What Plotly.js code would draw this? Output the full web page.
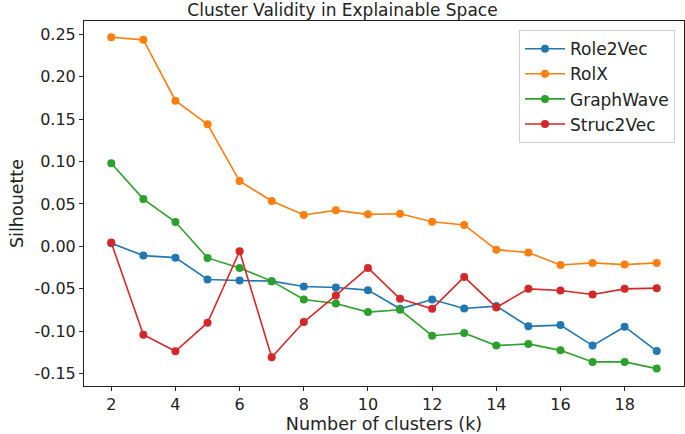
<!DOCTYPE html>
<html>
<head>
<meta charset="utf-8">
<script src="https://cdn.plot.ly/plotly-3.0.1.min.js"></script>
<style>html,body{margin:0;padding:0;background:#fff;}#chart{width:685px;height:434px;}</style>
</head>
<body>
<div id="chart"></div>
<script>
const k = [2,3,4,5,6,7,8,9,10,11,12,13,14,15,16,17,18,19];
const role2vec = [0.0036,-0.0109,-0.0133,-0.0391,-0.0403,-0.0410,-0.0473,-0.0485,-0.0516,-0.0736,-0.0626,-0.0732,-0.0704,-0.0943,-0.0928,-0.1170,-0.0947,-0.1234];
const rolx = [0.2465,0.2434,0.1717,0.1439,0.0769,0.0534,0.0369,0.0424,0.0377,0.0384,0.0290,0.0252,-0.0039,-0.0074,-0.0219,-0.0195,-0.0215,-0.0195];
const graphwave = [0.0980,0.0557,0.0287,-0.0136,-0.0254,-0.0410,-0.0626,-0.0673,-0.0775,-0.0748,-0.1053,-0.1022,-0.1170,-0.1150,-0.1226,-0.1362,-0.1362,-0.1441];
const struc2vec = [0.0044,-0.1041,-0.1237,-0.0900,-0.0058,-0.1308,-0.0892,-0.0579,-0.0254,-0.0618,-0.0736,-0.0360,-0.0720,-0.0501,-0.0520,-0.0568,-0.0501,-0.0493];
const seriesNames = ["Role2Vec","RolX","GraphWave","Struc2Vec"];
const colors = ["#1f77b4","#ff7f0e","#2ca02c","#d62728"];
const xTicks = [2,4,6,8,10,12,14,16,18];
const yTicks = [-0.15,-0.10,-0.05,0.00,0.05,0.10,0.15,0.20,0.25];

const font = "DejaVu Sans, sans-serif";
const data = [role2vec, rolx, graphwave, struc2vec].map((ys, i) => ({
  x: k, y: ys, name: seriesNames[i], type: "scatter", mode: "lines+markers",
  line: {color: colors[i], width: 1.6},
  marker: {color: colors[i], size: 8}
}));

const layout = {
  width: 685, height: 434,
  margin: {l: 84, r: 1, t: 21, b: 48},
  paper_bgcolor: "#fff", plot_bgcolor: "#fff",
  font: {family: font, size: 16, color: "#222"},
  title: {text: "Cluster Validity in Explainable Space", font: {family: font, size: 17, color: "#222"}, x: 0.5, xanchor: "center", y: 0.978, yanchor: "middle", yref: "container"},
  xaxis: {
    range: [1.15, 19.85], tickvals: xTicks, ticktext: xTicks.map(String),
    showgrid: false, zeroline: false, showline: true, linecolor: "#222", linewidth: 1, mirror: true,
    ticks: "outside", ticklen: 4, tickcolor: "#222", tickfont: {family: font, size: 16, color: "#222"},
    title: {text: "Number of clusters (k)", font: {family: font, size: 17.5, color: "#222"}, standoff: 4}
  },
  yaxis: {
    range: [-0.1646, 0.2656], tickvals: yTicks, ticktext: yTicks.map(v => v.toFixed(2)),
    showgrid: false, zeroline: false, showline: true, linecolor: "#222", linewidth: 1, mirror: true,
    ticks: "outside", ticklen: 4, tickcolor: "#222", tickfont: {family: font, size: 16, color: "#222"},
    title: {text: "Silhouette", font: {family: font, size: 17.5, color: "#222"}, standoff: 6}
  },
  legend: {
    x: 0.985, y: 0.975, xanchor: "right", yanchor: "top",
    bgcolor: "rgba(255,255,255,0.8)", bordercolor: "#d0d0d0", borderwidth: 1,
    font: {family: font, size: 17, color: "#222"}, itemwidth: 40, tracegroupgap: 0
  },
  showlegend: true
};
Plotly.newPlot("chart", data, layout, {staticPlot: true, displayModeBar: false});
</script>
</body>
</html>
